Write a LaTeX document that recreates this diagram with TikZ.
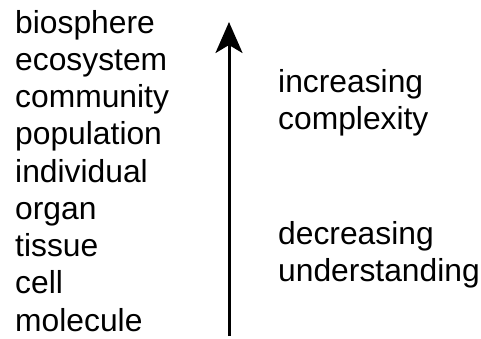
\documentclass[tikz,border=0pt]{standalone}
\usepackage{fontspec}
\setmainfont{Liberation Sans}
\usetikzlibrary{arrows.meta}
\begin{document}
\begin{tikzpicture}[x=1pt,y=-1pt,
  lbl/.style={anchor=base west,inner sep=0pt,font=\fontsize{31.8}{37.5}\selectfont},
  axisarrow/.style={line width=3pt,-{Stealth[length=31pt,width=27pt,inset=8pt]}}]
\useasboundingbox (0,0) rectangle (481,338);
\foreach \t [count=\i from 0] in {biosphere,ecosystem,community,population,individual,organ,tissue,cell,molecule}
  \node[lbl] (l\i) at (15,33+37.25*\i) {\t};
\node[lbl] (inc) at (278,92) {increasing};
\node[lbl] (cpx) at (278,129) {complexity};
\node[lbl] (dec) at (278,244) {decreasing};
\node[lbl] (und) at (278,281) {understanding};
\coordinate (abot) at (229,336);
\coordinate (atop) at (229,22);
\draw[axisarrow] (abot) -- (atop);
\end{tikzpicture}
\end{document}
